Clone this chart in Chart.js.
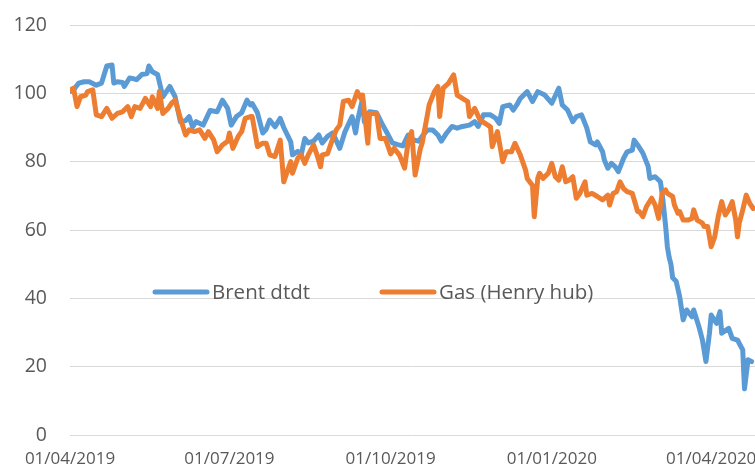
<!DOCTYPE html>
<html>
<head>
<meta charset="utf-8">
<script src="https://cdn.jsdelivr.net/npm/chart.js@4.4.1/dist/chart.umd.min.js"></script>
<style>
  html, body { margin: 0; padding: 0; background: #fff; }
  #wrap { width: 755px; height: 468px; position: relative; }
</style>
</head>
<body>
<div id="wrap"><canvas id="chart"></canvas></div>
<script>
// Days counted from 01/04/2019.
var START = Date.UTC(2019, 3, 1);
var tickDays = [0, 91, 183, 275, 366]; // 01/04/2019, 01/07, 01/10, 01/01/2020, 01/04/2020

var brentDays = [0, 2, 5, 8, 11, 15, 18, 21, 24, 25, 27, 30, 31, 34, 36, 38, 41, 44, 45, 47,
  50, 53, 55, 57, 60, 63, 66, 68, 70, 72, 76, 80, 84, 87, 90, 92, 95, 98, 101, 103,
  104, 107, 110, 112, 114, 117, 120, 122, 126, 127, 130, 132, 134, 136, 139, 142, 144, 147, 150, 154,
  157, 161, 163, 164, 167, 168, 171, 175, 178, 181, 184, 187, 190, 193, 196, 199, 201, 204, 207, 210,
  212, 215, 218, 221, 224, 228, 231, 233, 236, 240, 243, 245, 247, 251, 253, 255, 257, 261, 264, 267,
  271, 275, 279, 281, 284, 287, 289, 292, 295, 297, 300, 301, 304, 305, 307, 309, 311, 313, 316, 318,
  321, 322, 324, 327, 330, 331, 334, 337, 338, 339, 340, 341, 342, 343, 344, 346, 348, 350, 352, 355,
  356, 359, 361, 363, 365, 366, 369, 371, 372, 376, 378, 381, 384, 385, 387, 389];
var brentValues = [100.5, 101, 103, 103.4, 103.4, 102.4, 103, 108, 108.3, 103, 103.4, 103.2, 102, 104.5, 104.3, 104, 105.5, 105.8, 108, 106.3,
  105.5, 99, 100.5, 102, 99, 91.7, 92, 93.2, 90.2, 91.7, 90.7, 95, 94.6, 98, 95.6, 90.7, 93.2, 94.3, 98, 96.6,
  97, 94.3, 88.4, 89.5, 92.2, 90.2, 92.7, 90, 85.8, 82, 83, 82, 86.8, 85.5, 86, 87.8, 85.5, 87.4, 88.4, 83.9,
  88.8, 93.2, 88.4, 91.7, 98.5, 91.7, 94.6, 94.3, 91.2, 88.4, 85.5, 85, 84.6, 87.8, 86.4, 86, 87.4, 89.3, 89.3, 87.8,
  86, 88.4, 90.3, 89.8, 90.3, 90.7, 91.7, 90.3, 93.7, 93.7, 92.7, 91.2, 96.1, 96.6, 95.1, 96.6, 98.5, 100.5, 97.6, 100.5,
  99.5, 97.1, 101.5, 96.6, 95.1, 91.7, 93.2, 93.7, 89.8, 85.8, 84.9, 85.8, 82.9, 80.5, 78.1, 79.5, 78.6, 77.1, 81, 82.9,
  83.4, 86.3, 84.9, 82.5, 78.6, 75.1, 75.6, 74.1, 70.7, 66, 61, 55, 52, 50, 46, 45, 40.5, 33.7, 36.6, 34.6,
  36.6, 31.7, 27.8, 21.5, 29.8, 35.1, 32.7, 36.1, 29.8, 31.2, 28.3, 27.8, 24.9, 13.5, 22, 21.5];

var gasDays = [0, 2, 4, 6, 9, 10, 13, 15, 18, 21, 24, 27, 30, 33, 35, 37, 40, 43, 46, 47,
  50, 51, 53, 56, 58, 60, 63, 66, 68, 71, 74, 77, 79, 82, 84, 87, 90, 91, 93, 96,
  98, 100, 103, 104, 107, 110, 112, 114, 117, 120, 122, 124, 126, 127, 130, 132, 134, 136, 139, 141,
  143, 144, 147, 150, 152, 154, 156, 159, 161, 164, 166, 167, 170, 171, 175, 177, 180, 183, 185, 188,
  191, 193, 195, 197, 200, 201, 204, 205, 208, 210, 211, 213, 216, 219, 221, 224, 227, 228, 231, 234,
  237, 240, 241, 244, 247, 249, 252, 254, 257, 260, 261, 264, 265, 267, 268, 270, 273, 275, 277, 279,
  281, 283, 285, 287, 289, 291, 294, 295, 298, 301, 304, 307, 308, 310, 312, 314, 316, 318, 321, 324,
  325, 327, 329, 332, 334, 336, 338, 340, 341, 344, 345, 347, 348, 350, 353, 355, 356, 358, 361, 362,
  364, 366, 368, 370, 372, 374, 376, 378, 380, 381, 382, 384, 386, 388, 390];
var gasValues = [101, 101.5, 96.1, 99, 99.5, 100.5, 101, 93.7, 93.2, 95.6, 92.7, 94.1, 94.6, 96.1, 93.2, 96.1, 95.6, 98.5, 96.1, 99,
  95.6, 100.5, 94.1, 95.6, 97.1, 98, 92.7, 87.8, 89.3, 88.8, 89.3, 86.8, 88.8, 86.4, 82.9, 84.9, 86, 88.4, 83.9, 87.4,
  88.8, 92.7, 93.2, 93.2, 84.4, 85.4, 85.4, 82, 81.5, 86.3, 74.1, 77.1, 80, 76.6, 81, 82, 79.5, 82, 84.9, 82,
  78.5, 82, 82.3, 86.8, 89.3, 90.7, 97.6, 98, 96.1, 100.5, 98.5, 99.5, 85.4, 94.1, 94.1, 86.8, 86.8, 82.3, 83.9, 82,
  78.1, 85.8, 88.8, 76.1, 83.9, 85.4, 93.7, 96.6, 100.5, 102, 93.2, 101.5, 102.9, 105.4, 99.5, 98.5, 97.6, 93.2, 95.6, 92.2,
  91.2, 90.2, 84.4, 88.8, 80, 82.9, 82.9, 85.4, 82, 77.6, 75.1, 73, 63.9, 75.1, 76.6, 75.1, 76.6, 79.5, 75.6, 74.6,
  78.5, 74.1, 74.6, 75.6, 69.3, 70.7, 74.1, 70.2, 70.7, 69.8, 68.8, 70.2, 67.3, 70.7, 71.2, 74.1, 72.1, 71.2, 70.7, 65.4,
  65.4, 63.9, 66.8, 69.3, 67.3, 63.4, 70.7, 71.7, 70.7, 69.8, 67.3, 64.9, 65.4, 62.9, 62.9, 63.4, 65.9, 62.9, 62, 61,
  61, 55.1, 58, 63.9, 68.3, 64.4, 65.9, 68.3, 62.9, 58, 62, 65.9, 70.2, 67.8, 66.3];

var seriesNames = ["Brent dtdt", "Gas (Henry hub)"];
var seriesColors = ["#5B9BD5", "#ED7D31"];

function pad2(n) { return (n < 10 ? "0" : "") + n; }
function dayLabel(d) {
  var dt = new Date(START + d * 86400000);
  return pad2(dt.getUTCDate()) + "/" + pad2(dt.getUTCMonth() + 1) + "/" + dt.getUTCFullYear();
}
function points(days, vals) {
  return days.map(function (d, i) { return { x: d, y: vals[i] }; });
}

// legend sits inside the plot, around the 40 line
var insideLegend = {
  id: "insideLegend",
  afterDraw: function (chart) {
    var ctx = chart.ctx;
    var y = 292;
    var starts = [153, 380];
    ctx.save();
    ctx.font = "20.5px 'Open Sans'";
    ctx.textBaseline = "middle";
    ctx.textAlign = "left";
    seriesNames.forEach(function (name, i) {
      var x = starts[i];
      ctx.beginPath();
      ctx.lineWidth = 5;
      ctx.lineCap = "round";
      ctx.strokeStyle = seriesColors[i];
      ctx.moveTo(x + 2, y);
      ctx.lineTo(x + 54, y);
      ctx.stroke();
      ctx.fillStyle = "#595959";
      ctx.fillText(name, x + 59, y + 1);
    });
    ctx.restore();
  },
};

new Chart(document.getElementById("chart"), {
  type: "line",
  data: {
    datasets: [
      { label: seriesNames[0], data: points(brentDays, brentValues), borderColor: seriesColors[0],
        borderWidth: 5, pointRadius: 0, tension: 0, borderJoinStyle: "round", borderCapStyle: "round", order: 1 },
      { label: seriesNames[1], data: points(gasDays, gasValues), borderColor: seriesColors[1],
        borderWidth: 5, pointRadius: 0, tension: 0, borderJoinStyle: "round", borderCapStyle: "round", order: 0 },
    ],
  },
  options: {
    responsive: true,
    maintainAspectRatio: false,
    animation: false,
    layout: { padding: { top: 25, right: 0, bottom: 0, left: 0 } },
    plugins: { legend: { display: false }, tooltip: { enabled: false } },
    scales: {
      x: {
        type: "linear", min: 0, max: 391,
        grid: { display: false, drawTicks: false },
        border: { display: false },
        afterBuildTicks: function (scale) {
          scale.ticks = tickDays.map(function (v) { return { value: v }; });
        },
        afterFit: function (scale) {
          scale.height = 33;
          scale.paddingRight = 0;
          scale.paddingLeft = 0;
        },
        ticks: {
          padding: 14, maxRotation: 0, autoSkip: false, color: "#595959",
          font: { family: "Open Sans", size: 17 },
          callback: function (v) { return dayLabel(v); },
        },
      },
      y: {
        min: 0, max: 120,
        grid: { color: "#d9d9d9", lineWidth: 1, drawTicks: false },
        border: { display: false },
        afterFit: function (scale) {
          // fixed axis box so the plot runs 70..755 x 25..435
          scale.width = 70;
          scale.paddingTop = 0;
          scale.paddingBottom = 0;
        },
        ticks: {
          stepSize: 20, padding: 23, color: "#595959",
          font: { family: "Open Sans", size: 19.5 },
        },
      },
    },
  },
  plugins: [insideLegend],
});
</script>
</body>
</html>
